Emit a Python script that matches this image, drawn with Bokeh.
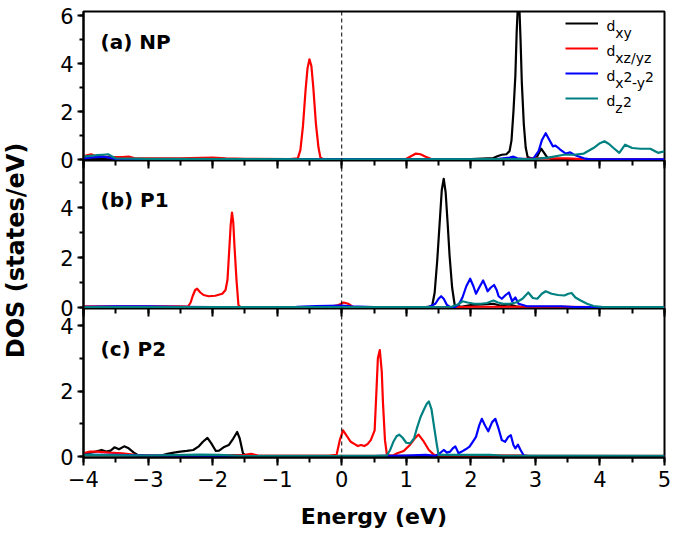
from math import pi
from bokeh.plotting import figure
from bokeh.layouts import column, row
from bokeh.models import Range1d, LinearAxis, SingleIntervalTicker, Span, Label, Legend, LegendItem
from bokeh.core.properties import value
from bokeh.embed import file_html
from bokeh.resources import INLINE

# ---------------- data ----------------
# Panel (a) NP
a_xy_x = [-4.0, 2.0, 2.35, 2.42, 2.48, 2.55, 2.6, 2.63, 2.66, 2.69, 2.71, 2.73, 2.75, 2.77, 2.79, 2.82, 2.85, 2.88, 2.95, 3.02, 3.06, 3.09, 3.13, 3.18, 3.25, 5.0]
a_xy_y = [0.02, 0.02, 0.06, 0.15, 0.2, 0.22, 0.35, 0.8, 2.0, 3.5, 5.3, 6.5, 6.5, 5.0, 3.2, 1.5, 0.5, 0.1, 0.04, 0.08, 0.3, 0.45, 0.3, 0.1, 0.02, 0.0]
a_xz_x = [-4.0, -3.95, -3.88, -3.82, -3.75, -3.7, -3.6, -3.5, -3.4, -3.3, -3.2, -3.0, -2.5, -2.0, -1.8, -1.5, -0.8, -0.68, -0.64, -0.6, -0.56, -0.53, -0.5, -0.47, -0.44, -0.4, -0.36, -0.33, -0.28, 0.5, 1.0, 1.08, 1.15, 1.22, 1.3, 1.38, 1.45, 2.8, 2.95, 3.2, 3.5, 3.65, 3.8, 5.0]
a_xz_y = [0.12, 0.18, 0.22, 0.15, 0.18, 0.12, 0.1, 0.1, 0.1, 0.12, 0.05, 0.05, 0.05, 0.08, 0.05, 0.03, 0.02, 0.05, 0.4, 1.4, 2.9, 3.8, 4.18, 3.9, 3.0, 1.5, 0.5, 0.08, 0.01, 0.01, 0.03, 0.15, 0.25, 0.22, 0.12, 0.03, 0.01, 0.02, 0.05, 0.05, 0.05, 0.03, 0.0, 0.0]
a_x2_x = [-4.0, -3.9, -3.8, -3.7, -3.6, -3.5, -3.0, 2.4, 2.5, 2.6, 2.66, 2.72, 2.85, 2.97, 3.05, 3.1, 3.16, 3.23, 3.27, 3.31, 3.35, 3.39, 3.47, 3.54, 3.6, 3.65, 3.75, 3.85, 5.0]
a_x2_y = [0.05, 0.08, 0.1, 0.12, 0.08, 0.03, 0.02, 0.02, 0.05, 0.08, 0.12, 0.05, 0.02, 0.05, 0.35, 0.8, 1.1, 0.75, 0.55, 0.58, 0.5, 0.4, 0.25, 0.3, 0.2, 0.15, 0.05, 0.01, 0.01]
a_z2_x = [-4.0, -3.9, -3.8, -3.7, -3.62, -3.55, -3.5, -3.0, 0.0, 2.5, 3.0, 3.2, 3.44, 3.6, 3.75, 3.9, 4.0, 4.07, 4.14, 4.21, 4.3, 4.39, 4.5, 4.63, 4.78, 4.9, 4.98, 5.0]
a_z2_y = [0.12, 0.15, 0.18, 0.2, 0.22, 0.12, 0.05, 0.03, 0.01, 0.02, 0.03, 0.08, 0.2, 0.2, 0.25, 0.48, 0.68, 0.76, 0.65, 0.48, 0.28, 0.62, 0.48, 0.45, 0.45, 0.28, 0.33, 0.35]

# Panel (b) P1
b_xy_x = [-4.0, 1.3, 1.40, 1.44, 1.48, 1.52, 1.55, 1.58, 1.61, 1.64, 1.67, 1.71, 1.75, 1.85, 2.0, 2.2, 2.35, 2.45, 2.6, 2.7, 2.8, 5.0]
b_xy_y = [0.02, 0.02, 0.05, 0.6, 1.9, 3.5, 4.7, 5.15, 4.6, 3.4, 2.1, 0.8, 0.1, 0.03, 0.1, 0.12, 0.15, 0.08, 0.12, 0.05, 0.02, 0.0]
b_xz_x = [-4.0, -3.5, -3.0, -2.5, -2.38, -2.34, -2.31, -2.27, -2.24, -2.19, -2.14, -2.06, -1.96, -1.85, -1.8, -1.77, -1.74, -1.72, -1.70, -1.68, -1.66, -1.63, -1.6, -1.57, -0.2, -0.05, 0.03, 0.1, 0.17, 1.8, 2.0, 3.5, 3.9, 5.0]
b_xz_y = [0.05, 0.05, 0.05, 0.05, 0.04, 0.2, 0.45, 0.7, 0.75, 0.6, 0.5, 0.45, 0.47, 0.55, 0.7, 1.1, 2.4, 3.3, 3.8, 3.4, 2.4, 1.1, 0.1, 0.02, 0.02, 0.1, 0.2, 0.15, 0.03, 0.02, 0.03, 0.03, 0.02, 0.02]
b_x2_x = [-4.0, -3.5, -3.0, -2.5, -2.0, -1.0, -0.7, -0.4, 0.0, 0.15, 0.5, 1.35, 1.45, 1.5, 1.54, 1.58, 1.63, 1.68, 1.76, 1.82, 1.87, 1.93, 1.99, 2.04, 2.08, 2.13, 2.19, 2.23, 2.26, 2.31, 2.36, 2.40, 2.43, 2.48, 2.54, 2.59, 2.64, 2.69, 2.74, 2.87, 3.0, 3.4, 3.6, 5.0]
b_x2_y = [0.03, 0.05, 0.05, 0.03, 0.02, 0.02, 0.03, 0.06, 0.08, 0.05, 0.02, 0.02, 0.15, 0.35, 0.45, 0.35, 0.1, 0.02, 0.02, 0.15, 0.4, 0.85, 1.15, 0.85, 0.55, 0.8, 1.08, 0.85, 0.65, 0.8, 0.9, 0.7, 0.45, 0.35, 0.5, 0.6, 0.25, 0.4, 0.15, 0.05, 0.05, 0.05, 0.02, 0.02]
b_z2_x = [-4.0, 1.3, 1.7, 1.8, 1.87, 1.95, 2.05, 2.15, 2.25, 2.35, 2.42, 2.5, 2.6, 2.7, 2.8, 2.89, 2.96, 3.03, 3.1, 3.16, 3.25, 3.35, 3.45, 3.51, 3.56, 3.62, 3.7, 3.8, 3.9, 4.05, 5.0]
b_z2_y = [0.02, 0.02, 0.03, 0.12, 0.25, 0.2, 0.15, 0.15, 0.18, 0.28, 0.2, 0.15, 0.15, 0.2, 0.35, 0.6, 0.38, 0.35, 0.55, 0.65, 0.55, 0.5, 0.48, 0.55, 0.58, 0.4, 0.28, 0.15, 0.06, 0.02, 0.02]

# Panel (c) P2
c_xy_x = [-4.0, -3.9, -3.81, -3.72, -3.65, -3.58, -3.52, -3.45, -3.37, -3.3, -3.22, -3.15, -3.0, -2.8, -2.7, -2.6, -2.5, -2.4, -2.3, -2.22, -2.15, -2.08, -2.02, -1.95, -1.9, -1.83, -1.75, -1.68, -1.62, -1.58, -1.53, -1.48, 5.0]
c_xy_y = [0.1, 0.12, 0.15, 0.2, 0.15, 0.18, 0.28, 0.22, 0.31, 0.25, 0.12, 0.03, 0.02, 0.03, 0.08, 0.12, 0.15, 0.17, 0.2, 0.3, 0.45, 0.57, 0.4, 0.17, 0.18, 0.28, 0.35, 0.55, 0.75, 0.55, 0.1, 0.02, 0.02]
c_xz_x = [-4.0, -3.9, -3.8, -3.6, -3.4, -3.2, -3.0, -2.0, -1.5, -1.4, -1.3, -0.2, -0.08, -0.03, 0.02, 0.08, 0.14, 0.2, 0.25, 0.3, 0.35, 0.4, 0.45, 0.51, 0.54, 0.56, 0.59, 0.62, 0.64, 0.67, 0.7, 0.78, 0.86, 0.96, 1.06, 1.13, 1.19, 1.27, 1.35, 1.43, 1.5, 2.8, 2.9, 5.0]
c_xz_y = [0.1, 0.15, 0.15, 0.12, 0.1, 0.05, 0.03, 0.03, 0.05, 0.08, 0.03, 0.02, 0.05, 0.5, 0.8, 0.62, 0.45, 0.38, 0.32, 0.35, 0.32, 0.38, 0.5, 0.8, 2.1, 3.0, 3.25, 2.6, 1.6, 0.5, 0.05, 0.02, 0.1, 0.17, 0.36, 0.55, 0.67, 0.46, 0.2, 0.05, 0.03, 0.03, 0.01, 0.01]
c_x2_x = [-4.0, -3.5, -3.0, -2.0, -1.0, 0.5, 1.0, 1.3, 1.45, 1.52, 1.58, 1.63, 1.68, 1.72, 1.76, 1.81, 1.86, 1.92, 1.98, 2.03, 2.08, 2.13, 2.17, 2.22, 2.27, 2.33, 2.38, 2.43, 2.48, 2.53, 2.58, 2.62, 2.66, 2.69, 2.73, 2.77, 2.82, 2.9, 5.0]
c_x2_y = [0.05, 0.05, 0.03, 0.02, 0.01, 0.01, 0.03, 0.05, 0.02, 0.1, 0.2, 0.12, 0.15, 0.25, 0.31, 0.1, 0.15, 0.22, 0.3, 0.45, 0.6, 0.95, 1.15, 0.95, 0.77, 1.05, 1.15, 0.85, 0.5, 0.45, 0.6, 0.65, 0.35, 0.25, 0.36, 0.2, 0.03, 0.01, 0.01]
c_z2_x = [-4.0, -3.0, -2.2, -1.9, -1.5, 0.5, 0.7, 0.75, 0.8, 0.85, 0.89, 0.94, 1.0, 1.06, 1.12, 1.17, 1.22, 1.27, 1.32, 1.35, 1.39, 1.43, 1.47, 1.5, 2.3, 2.5, 5.0]
c_z2_y = [0.05, 0.03, 0.06, 0.05, 0.01, 0.01, 0.03, 0.2, 0.45, 0.62, 0.67, 0.58, 0.42, 0.4, 0.55, 0.9, 1.2, 1.42, 1.62, 1.68, 1.45, 0.92, 0.4, 0.05, 0.05, 0.02, 0.01]

panel_titles = ["(a) NP", "(b) P1", "(c) P2"]
x_label = "Energy (eV)"
y_label = "DOS (states/eV)"

# ---------------- styling / layout ----------------
FONT = "DejaVu Sans"
COL_XY, COL_XZ, COL_X2, COL_Z2 = "#000000", "#ff0000", "#0000ff", "#008080"
X_MIN, X_MAX = -4, 5
FRAME_W = 581
BORDER_L = 45
BORDER_R = 8
LW = 2
OVERLAP = 14   # room below panels (a),(b) for their "0" tick label, overlapped by the next panel


def style_ticks(ax):
    ax.axis_line_color = "black"
    ax.axis_line_width = LW
    ax.major_tick_line_color = "black"
    ax.minor_tick_line_color = "black"
    ax.major_tick_line_width = LW
    ax.minor_tick_line_width = LW
    ax.major_label_text_font = FONT
    ax.major_label_text_font_size = "21px"
    ax.major_label_text_color = "black"


def make_panel(ymin, ymax, frame_h, top_b, bottom_b, series, title, title_dy, top_ticks, bottom_axis, margin):
    p = figure(frame_width=FRAME_W, frame_height=frame_h,
               x_range=Range1d(X_MIN, X_MAX), y_range=Range1d(ymin, ymax),
               x_axis_location=None, y_axis_location=None,
               toolbar_location=None, output_backend="svg",
               min_border_left=BORDER_L, min_border_right=BORDER_R,
               min_border_top=top_b, min_border_bottom=bottom_b, margin=margin)
    p.xgrid.visible = False
    p.ygrid.visible = False
    p.outline_line_color = "black"
    p.outline_line_width = LW
    p.background_fill_color = "white"
    p.border_fill_alpha = 0

    ya = LinearAxis(ticker=SingleIntervalTicker(interval=2, num_minor_ticks=2))
    style_ticks(ya)
    ya.major_tick_out = 6
    ya.major_tick_in = 0
    ya.minor_tick_out = 4
    ya.minor_tick_in = 0
    ya.major_label_standoff = 4
    p.add_layout(ya, "left")

    if top_ticks:
        ta = LinearAxis(ticker=SingleIntervalTicker(interval=1, num_minor_ticks=2))
        style_ticks(ta)
        ta.axis_line_color = None
        ta.major_tick_in = 8
        ta.major_tick_out = 0
        ta.minor_tick_in = 5
        ta.minor_tick_out = 0
        ta.major_label_text_font_size = "1px"
        ta.major_label_text_color = None
        ta.major_label_standoff = 0
        p.add_layout(ta, "above")

    if bottom_axis:
        xa = LinearAxis(ticker=SingleIntervalTicker(interval=1, num_minor_ticks=2), axis_label=x_label)
        style_ticks(xa)
        xa.major_tick_out = 8
        xa.major_tick_in = 0
        xa.minor_tick_out = 5
        xa.minor_tick_in = 0
        xa.major_label_standoff = 5
        xa.axis_label_text_font = FONT
        xa.axis_label_text_font_style = "bold"
        xa.axis_label_text_font_size = "22px"
        xa.axis_label_text_color = "black"
        xa.axis_label_standoff = 14
        p.add_layout(xa, "below")

    rends = []
    for xs, ys, col in series:
        rends.append(p.line(xs, ys, line_color=col, line_width=2.2, line_join="round"))

    p.add_layout(Span(location=0, dimension="height", line_color="black",
                      line_width=1, line_dash="4 3"))

    p.add_layout(Label(x=X_MIN, y=ymax, x_offset=17, y_offset=-title_dy, text=title,
                       text_font=FONT, text_font_style="bold", text_font_size="20px",
                       text_align="left", text_baseline="alphabetic", text_color="black"))
    return p, rends


pa, rends_a = make_panel(-0.04, 6.17, 149, 11, OVERLAP,
                         [(a_xy_x, a_xy_y, COL_XY), (a_xz_x, a_xz_y, COL_XZ),
                          (a_x2_x, a_x2_y, COL_X2), (a_z2_x, a_z2_y, COL_Z2)],
                         panel_titles[0], 30, False, False, (0, 0, 0, 0))
pb, _ = make_panel(-0.04, 5.88, 148, 0, OVERLAP,
                   [(b_xy_x, b_xy_y, COL_XY), (b_xz_x, b_xz_y, COL_XZ),
                    (b_x2_x, b_x2_y, COL_X2), (b_z2_x, b_z2_y, COL_Z2)],
                   panel_titles[1], 39, True, False, (-OVERLAP, 0, 0, 0))
pc, _ = make_panel(-0.03, 4.52, 149, 0, 80,
                   [(c_xy_x, c_xy_y, COL_XY), (c_xz_x, c_xz_y, COL_XZ),
                    (c_x2_x, c_x2_y, COL_X2), (c_z2_x, c_z2_y, COL_Z2)],
                   panel_titles[2], 40, True, True, (-OVERLAP, 0, 0, 0))

# legend (line samples) in panel (a)
legend = Legend(items=[LegendItem(label=value(" "), renderers=[r]) for r in rends_a],
                location="top_right", margin=2, padding=0, spacing=5,
                glyph_width=33, glyph_height=20, label_width=59, label_height=20,
                label_standoff=5, border_line_color=None, background_fill_alpha=0,
                label_text_font_size="1px", label_text_color=None)
pa.add_layout(legend)

# legend texts with subscripts: (text, x shift px, subscript?)
leg_rows = [
    [("d", 0, False), ("xy", 8.9, True)],
    [("d", 0, False), ("xz/yz", 8.9, True)],
    [("d", 0, False), ("x", 8.9, True), ("2", 17, False), ("-y", 25.5, True), ("2", 38.5, False)],
    [("d", 0, False), ("z", 8.9, True), ("2", 16.5, False)],
]
for i, pieces in enumerate(leg_rows):
    base = 14 + 25 * i
    for txt, dx, sub in pieces:
        dy = base + (7.5 if sub else (1 if (txt == "2") else 0))
        pa.add_layout(Label(x=4.10, y=6.17, x_offset=dx, y_offset=-dy, text=txt,
                            text_font=FONT, text_font_size="14px", text_color="black",
                            text_align="left", text_baseline="alphabetic"))

# spacer figure carrying the shared y-axis title
TOTAL_H = (11 + 149 + OVERLAP) + (148 + OVERLAP - OVERLAP) + (149 + 80 - OVERLAP)
sp = figure(width=38, height=TOTAL_H, x_range=Range1d(0, 1), y_range=Range1d(0, 1),
            x_axis_location=None, y_axis_location=None, toolbar_location=None,
            output_backend="svg", min_border=0)
sp.xgrid.visible = False
sp.ygrid.visible = False
sp.outline_line_color = None
sp.add_layout(Label(x=0.395, y=0.5345, text=y_label, angle=pi / 2,
                    text_font=FONT, text_font_style="bold", text_font_size="24px",
                    text_align="center", text_baseline="middle", text_color="black"))

layout = row(sp, column(pa, pb, pc))
open("out.html", "w").write(file_html(layout, INLINE, "DOS"))
